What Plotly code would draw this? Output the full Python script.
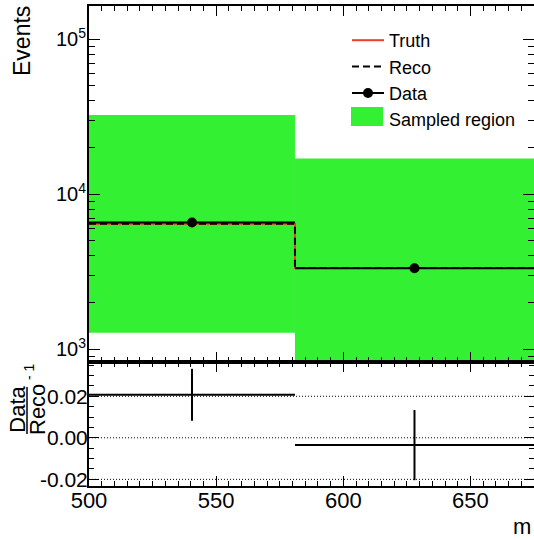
import plotly.graph_objects as go

# ---- data ----
bin_edges = [500, 581, 675]
truth = [6450, 3340]
reco = [6450, 3340]
data = [6580, 3330]
data_err = [81, 58]
sampled_low = [1280, 650]
sampled_high = [32500, 17000]
ratio = [0.0207, -0.0035]
ratio_err = [0.0125, 0.0169]
ratio_ref_lines = [-0.02, 0.0, 0.02]

x_major_ticks = [500, 550, 600, 650]
y_log_ticks = [1e3, 1e4, 1e5]
y_log_text = ["10<sup>3</sup>", "10<sup>4</sup>", "10<sup>5</sup>"]
y_log_minor = [m * 10 ** e for e in (2, 3, 4) for m in range(2, 10)]
ratio_ticks = [-0.02, 0.0, 0.02]
ratio_text = ["-0.02", "0.00", "0.02"]

# ---- derived ----
centers = [(a + b) / 2 for a, b in zip(bin_edges[:-1], bin_edges[1:])]
widths = [b - a for a, b in zip(bin_edges[:-1], bin_edges[1:])]
halfw = [w / 2 for w in widths]
truth_step = truth + [truth[-1]]
reco_step = reco + [reco[-1]]

GREEN = "rgb(51,240,51)"
RED = "rgb(240,60,40)"
FONT = "Liberation Sans, Arial, Helvetica, sans-serif"

W, H = 534, 540
PL, PR, PT, PB = 89, 534, 6, 486  # plot area in page pixels
PW, PH = PR - PL, PB - PT


def px(X):
    return (X - PL) / PW


def py(Y):
    return (PB - Y) / PH


fig = go.Figure()

fig.add_trace(go.Bar(
    x=centers, y=[h - l for h, l in zip(sampled_high, sampled_low)], base=sampled_low,
    width=widths, marker=dict(color=GREEN, line=dict(width=0)),
    name="Sampled region", legendrank=4, xaxis="x", yaxis="y"))

fig.add_trace(go.Scatter(
    x=bin_edges, y=truth_step, mode="lines",
    line=dict(color=RED, width=2, shape="hv"),
    name="Truth", legendrank=1, xaxis="x", yaxis="y"))

fig.add_trace(go.Scatter(
    x=bin_edges, y=reco_step, mode="lines",
    line=dict(color="black", width=2, shape="hv", dash="7px,4px"),
    name="Reco", legendrank=2, xaxis="x", yaxis="y"))

fig.add_trace(go.Scatter(
    x=centers, y=data, mode="markers",
    marker=dict(color="black", size=10),
    error_y=dict(type="data", array=data_err, color="black", thickness=2, width=0),
    error_x=dict(type="data", array=halfw, color="black", thickness=2, width=0),
    showlegend=False, xaxis="x", yaxis="y"))

# legend entry for data (line-marker-line)
fig.add_trace(go.Scatter(
    x=[None], y=[None], mode="lines+markers",
    line=dict(color="black", width=2), marker=dict(color="black", size=10),
    name="Data", legendrank=3, xaxis="x", yaxis="y"))

fig.add_trace(go.Scatter(
    x=centers, y=ratio, mode="markers",
    marker=dict(color="black", size=1),
    error_y=dict(type="data", array=ratio_err, color="black", thickness=2, width=0),
    error_x=dict(type="data", array=halfw, color="black", thickness=2, width=0),
    showlegend=False, xaxis="x2", yaxis="y2"))

shapes = []
for v in ratio_ref_lines:
    shapes.append(dict(type="line", xref="x2 domain", x0=0, x1=1, yref="y2", y0=v, y1=v,
                       line=dict(color="black", width=1, dash="1px,2px"), layer="below"))

# fraction bar for the ratio label
shapes.append(dict(type="line", xref="paper", yref="paper",
                   x0=px(27), x1=px(27), y0=py(387), y1=py(434),
                   line=dict(color="black", width=1.5)))
# wider swatch behind the legend's fill symbol
shapes.append(dict(type="rect", xref="paper", yref="paper",
                   x0=px(351), x1=px(383), y0=py(126), y1=py(107),
                   fillcolor=GREEN, line=dict(width=0), layer="above"))

axis_common = dict(showline=True, linecolor="black", linewidth=2, mirror="ticks",
                   ticks="inside", tickcolor="black", tickwidth=1, showgrid=False,
                   zeroline=False, automargin=False)

split = py(362)
log_top = 5 + (39.3 - PT) / 155.0
log_bot = 3 - (362 - 349.3) / 155.0

fig.update_layout(
    width=W, height=H,
    margin=dict(l=PL, r=W - PR, t=PT, b=H - PB),
    paper_bgcolor="white", plot_bgcolor="white",
    font=dict(family=FONT, color="black"),
    barmode="overlay",
    xaxis=dict(domain=[0, 1], anchor="y", range=[500, 675], showticklabels=False,
               tickvals=x_major_ticks, ticklen=10,
               minor=dict(ticks="inside", dtick=5, tick0=500, ticklen=5, tickcolor="black"),
               **axis_common),
    yaxis=dict(domain=[split, 1], anchor="x", type="log", range=[log_bot, log_top],
               tickvals=y_log_ticks, ticktext=y_log_text, ticklen=11,
               tickfont=dict(size=20), ticklabelstandoff=-3,
               minor=dict(ticks="inside", tickvals=y_log_minor, ticklen=6, tickcolor="black"),
               **axis_common),
    xaxis2=dict(domain=[0, 1], anchor="y2", range=[500, 675],
                tickvals=x_major_ticks, ticklen=10, tickfont=dict(size=22),
                ticklabelstandoff=-6,
                minor=dict(ticks="inside", dtick=5, tick0=500, ticklen=5, tickcolor="black"),
                **axis_common),
    yaxis2=dict(domain=[0, split], anchor="x2", range=[-0.0232, 0.0365],
                tickvals=ratio_ticks, ticktext=ratio_text, ticklen=10,
                tickfont=dict(size=21), ticklabelstandoff=-5,
                minor=dict(ticks="inside", dtick=0.005, tick0=0, ticklen=5, tickcolor="black"),
                **axis_common),
    legend=dict(x=px(347), xanchor="left", y=py(22), yanchor="top",
                bgcolor="rgba(0,0,0,0)", font=dict(size=18), traceorder="normal",
                itemwidth=32),
    shapes=shapes,
    annotations=[
        dict(text="Events", textangle=-90, xref="paper", yref="paper",
             x=px(22), y=py(4), xanchor="center", yanchor="top",
             showarrow=False, font=dict(size=23)),
        dict(text="m", xref="paper", yref="paper", x=px(533), y=py(526),
             xanchor="right", yanchor="middle", showarrow=False, font=dict(size=22)),
        dict(text="Data", textangle=-90, xref="paper", yref="paper",
             x=px(16.7), y=py(409), xanchor="center", yanchor="middle",
             showarrow=False, font=dict(size=22)),
        dict(text="Reco", textangle=-90, xref="paper", yref="paper",
             x=px(37), y=py(410), xanchor="center", yanchor="middle",
             showarrow=False, font=dict(size=22)),
        dict(text="- 1", textangle=-90, xref="paper", yref="paper",
             x=px(29), y=py(372), xanchor="center", yanchor="middle",
             showarrow=False, font=dict(size=14)),
    ],
)

fig.write_html(
    "out.html",
    config={"displayModeBar": False},
    post_script="document.body.style.margin='0px';document.body.style.overflow='hidden';",
)
